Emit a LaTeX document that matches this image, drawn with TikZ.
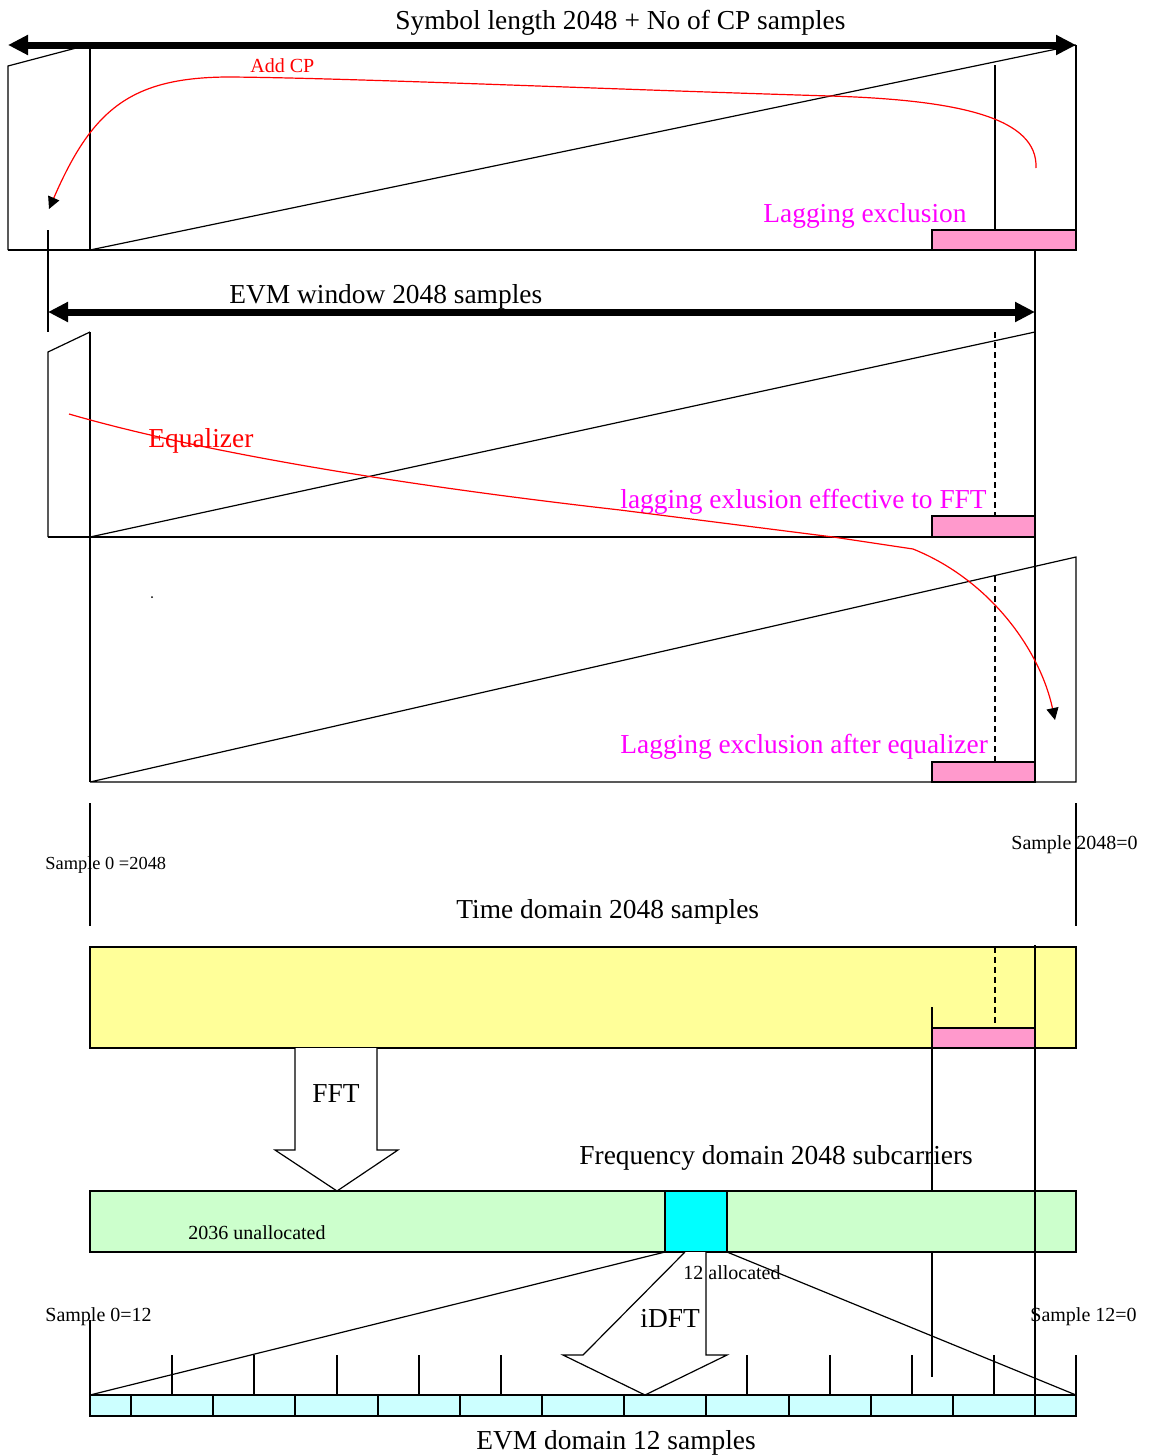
\documentclass[tikz,border=0pt]{standalone}
\usepackage{fontspec}
\setmainfont{Liberation Serif}
\usetikzlibrary{arrows.meta}
\definecolor{pinkx}{HTML}{FF99CC}
\definecolor{yelx}{HTML}{FFFF99}
\definecolor{grnx}{HTML}{CCFFCC}
\definecolor{cyx}{HTML}{00FFFF}
\definecolor{lcyx}{HTML}{CCFFFF}
\definecolor{magx}{HTML}{FF00FF}
\begin{document}
\begin{tikzpicture}[x=0.5pt,y=-0.5pt,
  ln/.style={line width=0.6pt},
  dsh/.style={line width=0.6pt, dash pattern=on 3pt off 2pt},
  bigarrow/.style={line width=3.5pt, {Triangle[length=10pt,width=9.5pt]}-{Triangle[length=10pt,width=9.5pt]}},
  redcurve/.style={red, line width=0.6pt, -{Triangle[length=6pt,width=6pt,black]}},
  bigtxt/.style={anchor=base west, inner sep=0pt, font=\fontsize{13.7}{16}\selectfont},
  smalltxt/.style={anchor=base west, inner sep=0pt, font=\fontsize{10}{12}\selectfont},
  pinkbox/.style={line width=0.6pt, draw=black, fill=pinkx}]
\useasboundingbox (0,0) rectangle (1148,1456);

% ---------- top section: symbol with CP ----------
\draw[ln] (8,250) -- (8,66) -- (80,47);
\draw[ln] (90,47) -- (90,250);
\draw[ln] (8,250) -- (1076,250);
\draw[ln] (90,250) -- (1076,45);
\draw[ln] (1076,45) -- (1076,250);
\draw[ln] (995,65) -- (995,230);
\draw[pinkbox] (932,230) rectangle (1076,250);
\draw[bigarrow] (8,45) -- (1076,45);
\node[bigtxt] (symlen) at (395,29) {Symbol length 2048 + No of CP samples};
\node[smalltxt, red] (addcp) at (250,72) {Add CP};
\node[bigtxt, magx] (lag1) at (763,222) {Lagging exclusion};
\draw[redcurve] (1036,168) .. controls (1038,118) and (960,100) .. (830,96)
  .. controls (600,89) and (350,78) .. (230,77)
  .. controls (130,77) and (92,110) .. (49,209);

% ---------- EVM window section ----------
\draw[ln] (48,230) -- (48,332);
\draw[ln] (1035,250) -- (1035,782);
\draw[bigarrow] (48,312) -- (1035,312);
\node[bigtxt] (evmwin) at (229,303) {EVM window 2048 samples};
\draw[ln] (48,537) -- (48,352) -- (90,332);
\draw[ln] (90,332) -- (90,782);
\draw[ln] (48,537) -- (1035,537);
\draw[ln] (90,537) -- (1035,332);
\draw[dsh] (995,332) -- (995,516);
\draw[pinkbox] (932,516) rectangle (1035,537);
\node[bigtxt, magx] (lag2) at (620,508) {lagging exlusion effective to FFT};

% ---------- after equalizer section ----------
\draw[ln] (90,782) -- (1076,782) -- (1076,557) -- (90,782);
\draw[dsh] (995,576) -- (995,762);
\draw[pinkbox] (932,762) rectangle (1035,782);
\fill (152,597) circle (0.5pt);
\node[bigtxt, magx] (lag3) at (620,753) {Lagging exclusion after equalizer};
\node[bigtxt, red] (eq) at (148,447) {Equalizer};
\draw[redcurve] (69,414) .. controls (200,452) and (400,485) .. (620,510)
  -- (833,537) -- (913,549)
  .. controls (990,580) and (1040,650) .. (1055,720);

% ---------- time domain ----------
\draw[ln] (90,803) -- (90,926);
\draw[ln] (1076,803) -- (1076,926);
\node[smalltxt, font=\fontsize{9.2}{11}\selectfont] (s0) at (45,869) {Sample 0 =2048};
\node[smalltxt] (s2048) at (1011,849) {Sample 2048=0};
\node[bigtxt] (tdom) at (456,918) {Time domain 2048 samples};

\draw[ln, fill=yelx] (90,947) rectangle (1076,1048);
\draw[ln] (932,1007) -- (932,1377);
\draw[dsh] (995,947) -- (995,1028);
\draw[pinkbox] (932,1028) rectangle (1035,1048);

% FFT block arrow
\draw[ln, fill=white] (295,1048) -- (295,1150) -- (275,1150) -- (337,1191) -- (398,1150) -- (377,1150) -- (377,1048);
\node[bigtxt] (fft) at (312,1102) {FFT};
\node[bigtxt] (fdom) at (579,1164) {Frequency domain 2048 subcarriers};

% ---------- frequency domain ----------
\draw[ln, fill=grnx] (90,1191) rectangle (1076,1252);
\draw[ln, fill=cyx] (665,1191) rectangle (727,1252);
\node[smalltxt] (unalloc) at (188,1239) {2036 unallocated};
\draw[ln] (665,1252) -- (90,1395);
\draw[ln] (727,1252) -- (1076,1395);

% ---------- EVM domain ----------
\draw[ln] (90,1320) -- (90,1395);
\draw[ln] (1076,1355) -- (1076,1395);
\foreach \t in {172,254,337,419,501,747,830,912,994}
  \draw[ln] (\t,1355) -- (\t,1395);
\foreach \a/\b in {90/131,131/213,213/295,295/378,378/460,460/542,542/624,624/706,706/789,789/871,871/953,953/1035,1035/1076}
  \draw[ln, fill=lcyx] (\a,1395) rectangle (\b,1416);
\draw[ln, fill=white] (685,1252) -- (583,1355) -- (563,1355) -- (645,1395) -- (727,1355) -- (706,1355) -- (706,1252);
\draw[ln] (1035,945) -- (1035,1417);
\node[smalltxt] (alloc) at (683,1279) {12 allocated};
\node[bigtxt] (idft) at (640,1327) {iDFT};
\node[smalltxt] (s012) at (45,1321) {Sample 0=12};
\node[smalltxt] (s120) at (1030,1321) {Sample 12=0};
\node[bigtxt] (evmdom) at (476,1449) {EVM domain 12 samples};
\end{tikzpicture}
\end{document}
